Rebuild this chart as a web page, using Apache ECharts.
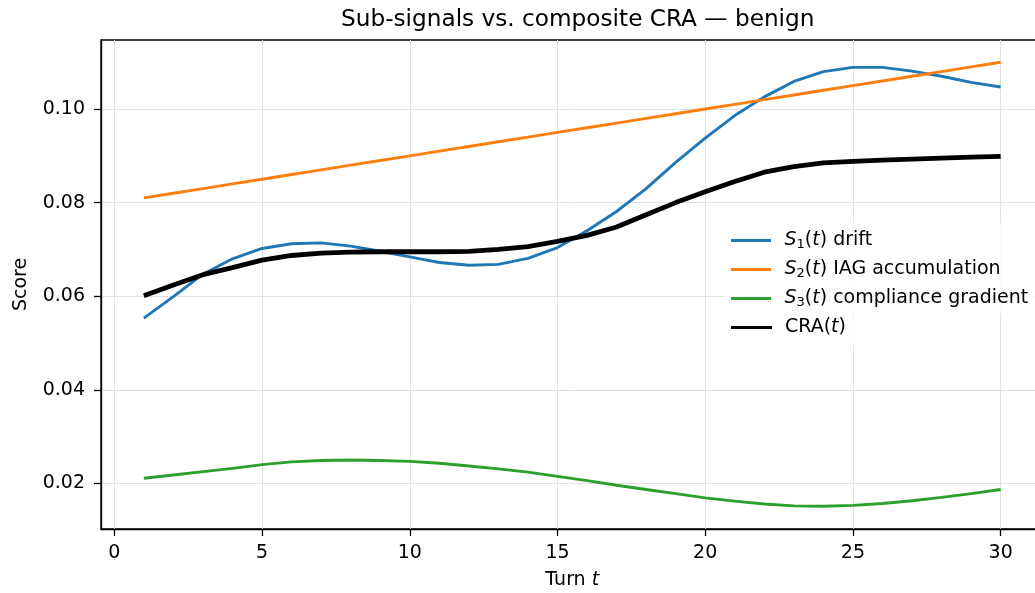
<!DOCTYPE html>
<html>
<head>
<meta charset="utf-8">
<script src="https://cdn.jsdelivr.net/npm/echarts@6/dist/echarts.min.js"></script>
<style>
html,body{margin:0;padding:0;background:#fff;}
#c{width:1035px;height:593px;}
</style>
</head>
<body>
<div id="c"></div>
<script>
const turns = [1,2,3,4,5,6,7,8,9,10,11,12,13,14,15,16,17,18,19,20,21,22,23,24,25,26,27,28,29,30];
const s1Drift = [0.0553,0.0599,0.0647,0.0680,0.0702,0.0712,0.0714,0.0707,0.0696,0.0684,0.0672,0.0666,0.0668,0.0681,0.0704,0.0740,0.0781,0.0830,0.0886,0.0938,0.0986,0.1026,0.1059,0.1080,0.1089,0.1089,0.1081,0.1070,0.1057,0.1047];
const s2IAG = [0.081,0.082,0.083,0.084,0.085,0.086,0.087,0.088,0.089,0.090,0.091,0.092,0.093,0.094,0.095,0.096,0.097,0.098,0.099,0.100,0.101,0.102,0.103,0.104,0.105,0.106,0.107,0.108,0.109,0.110];
const s3Compliance = [0.0211,0.0218,0.0225,0.0232,0.0240,0.0246,0.0249,0.0250,0.0249,0.0247,0.0243,0.0237,0.0231,0.0224,0.0215,0.0206,0.0196,0.0187,0.0178,0.0169,0.0162,0.0156,0.0152,0.0151,0.0153,0.0157,0.0163,0.0170,0.0178,0.0187];
const craComposite = [0.0601,0.0624,0.0646,0.0661,0.0677,0.0687,0.0692,0.0694,0.0695,0.0695,0.0695,0.0696,0.0700,0.0706,0.0717,0.0730,0.0748,0.0774,0.0800,0.0823,0.0845,0.0865,0.0877,0.0885,0.0888,0.0891,0.0893,0.0895,0.0897,0.0899];
const xTicks = [0,5,10,15,20,25,30];
const yTicks = [0.02,0.04,0.06,0.08,0.10];

const FONT = 'DejaVu Sans';
const pair = arr => turns.map((t,i)=>[t,arr[i]]);
const chart = echarts.init(document.getElementById('c'), null, {renderer:'canvas'});
const rich = {
  n:{fontFamily:FONT,fontSize:19,color:'#000',lineHeight:22},
  i:{fontFamily:FONT,fontSize:19,fontStyle:'italic',color:'#000',lineHeight:22},
  sub:{fontFamily:FONT,fontSize:13,color:'#000',lineHeight:13,verticalAlign:'bottom'}
};
const legendText = {
  's1':'{i|S}{sub|1}{n|(}{i|t}{n|) drift}',
  's2':'{i|S}{sub|2}{n|(}{i|t}{n|) IAG accumulation}',
  's3':'{i|S}{sub|3}{n|(}{i|t}{n|) compliance gradient}',
  'cra':'{n|CRA(}{i|t}{n|)}'
};
const barIcon = 'path://M0,0H40V3H0Z';
const legendCommon = {
  orient:'vertical',
  itemWidth:41, itemGap:8.5,
  backgroundColor:'rgba(255,255,255,0.8)',
  formatter:name=>legendText[name],
  textStyle:{rich:rich,padding:[0,0,0,8]},
  icon:barIcon
};
const option = {
  animation:false,
  backgroundColor:'#fff',
  title:{
    text:'Sub-signals vs. composite CRA — benign',
    left:336, top:3,
    textStyle:{fontFamily:FONT,fontSize:23.2,fontWeight:'normal',color:'#000'}
  },
  grid:{left:101,top:40,width:942.5,height:489,show:true,borderColor:'#000',borderWidth:1.3,backgroundColor:'transparent',outerBoundsMode:'none',containLabel:false},
  legend:[
    Object.assign({}, legendCommon, {
      left:724, top:223, padding:[8,8,4,7], itemHeight:3,
      data:['s1','s2','s3']
    }),
    Object.assign({}, legendCommon, {
      left:724, top:315, padding:[3,8,8,7], itemHeight:5,
      data:['cra']
    })
  ],
  xAxis:{
    type:'value', min:-0.45, max:31.45,
    name:'{n|Turn }{i|t}', nameLocation:'middle', nameGap:40,
    nameTextStyle:{rich:rich},
    axisLine:{show:true,onZero:false,lineStyle:{color:'#000',width:1.3}},
    axisTick:{show:true,length:7,customValues:xTicks,lineStyle:{color:'#000',width:1.3}},
    axisLabel:{customValues:xTicks,fontFamily:FONT,fontSize:19,color:'#000',margin:15},
    splitLine:{show:true,lineStyle:{color:'#e2e2e2',width:1}}
  },
  yAxis:{
    type:'value', min:0.01025, max:0.11475,
    name:'Score', nameLocation:'middle', nameGap:70, nameRotate:90,
    nameTextStyle:{fontFamily:FONT,fontSize:19,color:'#000'},
    axisLine:{show:true,onZero:false,lineStyle:{color:'#000',width:1.3}},
    axisTick:{show:true,length:7,customValues:yTicks,lineStyle:{color:'#000',width:1.3}},
    axisLabel:{customValues:yTicks,fontFamily:FONT,fontSize:19,color:'#000',margin:16,formatter:v=>v.toFixed(2)},
    splitLine:{show:true,lineStyle:{color:'#e2e2e2',width:1}}
  },
  series:[
    {name:'s1',type:'line',data:pair(s1Drift),showSymbol:false,symbol:'none',lineStyle:{color:'#1f77b4',width:2.9},itemStyle:{color:'#1f77b4'},z:3},
    {name:'s2',type:'line',data:pair(s2IAG),showSymbol:false,symbol:'none',lineStyle:{color:'#ff7f0e',width:2.9},itemStyle:{color:'#ff7f0e'},z:3},
    {name:'s3',type:'line',data:pair(s3Compliance),showSymbol:false,symbol:'none',lineStyle:{color:'#2ca02c',width:2.9},itemStyle:{color:'#2ca02c'},z:3},
    {name:'cra',type:'line',data:pair(craComposite),showSymbol:false,symbol:'none',lineStyle:{color:'#000',width:4.8},itemStyle:{color:'#000'},z:4}
  ]
};
chart.setOption(option);
</script>
</body>
</html>
